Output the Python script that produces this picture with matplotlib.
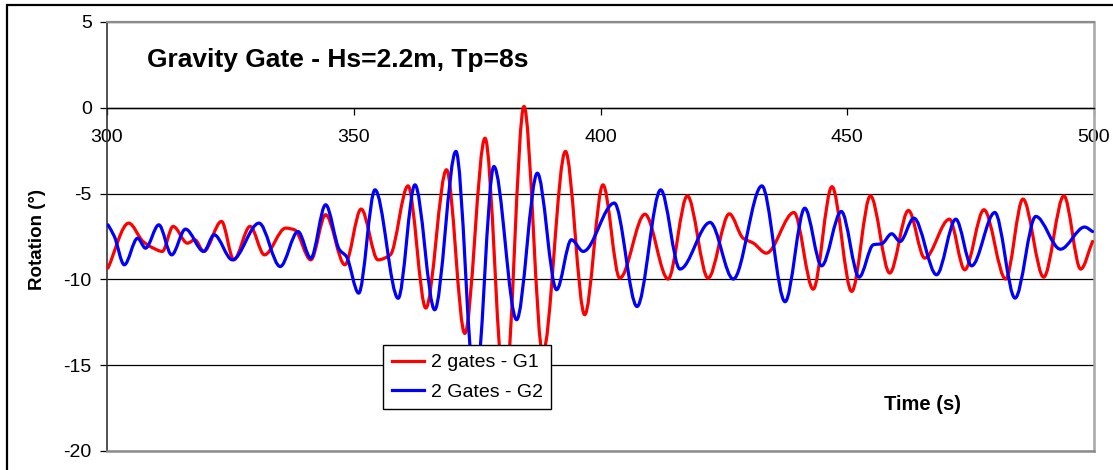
import numpy as np
import matplotlib
matplotlib.use('Agg')
import matplotlib.pyplot as plt
from matplotlib.path import Path
from matplotlib.patches import PathPatch, Rectangle
from matplotlib.lines import Line2D

plt.rcParams['font.family'] = ['Liberation Sans', 'DejaVu Sans']

# ---------------- data ----------------
title = "Gravity Gate - Hs=2.2m, Tp=8s"
x_label = "Time (s)"
y_label = "Rotation (\u00b0)"
x_ticks = [300, 350, 400, 450, 500]
y_ticks = [-20, -15, -10, -5, 0, 5]

g1_label = "2 gates - G1"
g1_time = [300.2, 304.4, 307.3, 309.4, 311.2, 313.4, 316.3, 317.8, 319.6, 323.2,
           325.7, 329.0, 331.9, 336.2, 338.0, 341.3, 344.3, 348.2, 351.5, 354.9,
           357.4, 361.0, 364.6, 368.8, 372.5, 376.6, 380.6, 384.5, 388.3, 392.9,
           396.8, 400.5, 403.9, 409.0, 413.7, 417.6, 421.8, 426.1, 428.9, 431.0,
           433.6, 439.2, 443.1, 446.9, 450.9, 454.7, 458.6, 462.4, 465.7, 470.7,
           473.8, 477.7, 482.1, 485.6, 489.8, 493.9, 497.3, 499.7]
g1_rot = [-9.34, -6.72, -7.79, -8.18, -8.37, -6.91, -7.89, -7.69, -8.37, -6.62,
          -8.86, -6.91, -8.57, -7.01, -7.11, -8.86, -6.23, -9.15, -5.90, -8.86,
          -8.57, -4.55, -11.67, -3.61, -13.15, -1.77, -16.8, 0.08, -14.3, -2.54,
          -12.06, -4.49, -9.93, -6.20, -9.98, -5.13, -9.93, -6.18, -7.60, -7.89,
          -8.47, -6.10, -10.57, -4.60, -10.70, -5.13, -9.63, -5.98, -8.76, -6.49,
          -9.44, -5.94, -9.98, -5.32, -9.87, -5.13, -9.40, -7.79]

g2_label = "2 Gates - G2"
g2_time = [300.2, 301.5, 303.5, 306.2, 307.8, 310.5, 313.1, 315.9, 319.6, 321.7,
           325.4, 330.8, 335.1, 338.7, 341.3, 344.3, 347.1, 348.5, 351.0, 354.3,
           359.0, 362.4, 366.4, 370.7, 374.6, 378.4, 383.0, 387.2, 391.1, 394.1,
           396.5, 402.8, 407.4, 412.2, 416.1, 422.2, 426.9, 432.7, 437.4, 441.4,
           444.8, 448.8, 452.4, 455.3, 457.0, 459.0, 460.7, 463.5, 468.1, 472.0,
           475.2, 479.9, 484.0, 488.2, 493.2, 498.1, 499.7]
g2_rot = [-6.82, -7.50, -9.15, -7.60, -8.18, -6.82, -8.57, -7.07, -8.37, -7.40,
          -8.86, -6.72, -9.25, -7.21, -8.76, -5.65, -8.27, -8.66, -10.80, -4.78,
          -11.10, -4.49, -11.77, -2.54, -16.5, -3.42, -12.35, -3.81, -10.60, -7.69,
          -8.37, -5.55, -11.58, -4.78, -9.40, -6.68, -9.98, -4.55, -11.30, -5.85,
          -9.21, -6.04, -9.87, -7.98, -7.92, -7.34, -7.79, -6.43, -9.73, -6.49,
          -9.21, -6.10, -11.09, -6.33, -8.24, -6.95, -7.21]


def smooth_path(t, y):
    """Smoothed-line path (like Excel's smoothed line) through the read points."""
    t = np.asarray(t, float)
    y = np.asarray(y, float)
    d = np.diff(y) / np.diff(t)
    m = np.zeros_like(y)
    for i in range(1, len(y) - 1):
        if d[i - 1] * d[i] > 0:
            h0 = t[i] - t[i - 1]
            h1 = t[i + 1] - t[i]
            w1 = 2 * h1 + h0
            w2 = h1 + 2 * h0
            m[i] = (w1 + w2) / (w1 / d[i - 1] + w2 / d[i])
    m[0] = d[0]
    m[-1] = d[-1]
    verts = [(t[0], y[0])]
    codes = [Path.MOVETO]
    for i in range(len(t) - 1):
        h = t[i + 1] - t[i]
        verts += [(t[i] + h / 3, y[i] + m[i] * h / 3),
                  (t[i + 1] - h / 3, y[i + 1] - m[i + 1] * h / 3),
                  (t[i + 1], y[i + 1])]
        codes += [Path.CURVE4] * 3
    return Path(verts, codes)


W, H = 1113, 470
fig = plt.figure(figsize=(W / 100, H / 100), dpi=100)
fig.patch.set_facecolor('white')

L, R, T, B = 107, 1094, 22, 451
ax = fig.add_axes([L / W, 1 - B / H, (R - L) / W, (B - T) / H])
ax.set_xlim(300, 500)
ax.set_ylim(-20, 5)

# gridlines
ax.set_yticks(y_ticks)
ax.set_xticks(x_ticks)
ax.yaxis.grid(True, color='black', lw=0.9)
ax.set_axisbelow(True)

# spines
ax.spines['bottom'].set_position(('data', 0))
ax.spines['bottom'].set_color('black')
ax.spines['bottom'].set_linewidth(1.0)
ax.spines['left'].set_color('#333333')
ax.spines['left'].set_linewidth(1.2)
ax.spines['top'].set_color('#8c8c8c')
ax.spines['top'].set_linewidth(1.6)
ax.spines['right'].set_color('#a6a6a6')
ax.spines['right'].set_linewidth(1.8)
ax.axhline(-20, color='#8c8c8c', lw=1.8, zorder=2.6, clip_on=False)

ax.tick_params(axis='y', direction='out', length=5, width=0.9, pad=6,
               labelsize=14, colors='black')
ax.tick_params(axis='x', direction='out', length=5, width=0.9, pad=10,
               labelsize=14, colors='black')
ax.set_yticklabels([str(v) for v in y_ticks])
ax.set_xticklabels([str(v) for v in x_ticks])

# series
p1 = PathPatch(smooth_path(g1_time, g1_rot), facecolor='none', edgecolor='#ff0000',
               lw=2.3, joinstyle='round', capstyle='round', zorder=3)
p2 = PathPatch(smooth_path(g2_time, g2_rot), facecolor='none', edgecolor='#0000ff',
               lw=2.3, joinstyle='round', capstyle='round', zorder=3.1)
ax.add_patch(p1)
ax.add_patch(p2)

handles = [Line2D([], [], color='#ff0000', lw=2.3),
           Line2D([], [], color='#0000ff', lw=2.3)]
leg = ax.legend(handles, [g1_label, g2_label], loc='upper left',
                bbox_to_anchor=((383 - L) / (R - L), (B - 345) / (B - T)),
                borderaxespad=0, fontsize=14, frameon=True, fancybox=False,
                edgecolor='black', framealpha=1, handlelength=1.65,
                handletextpad=0.35, labelspacing=0.6, borderpad=0.45)
leg.get_frame().set_linewidth(1.0)
leg.set_zorder(5)

# texts
fig.text(147 / W, 1 - 60 / H, title, fontsize=19, fontweight='bold',
         ha='left', va='center')
fig.text(923 / W, 1 - 405 / H, x_label, fontsize=14.5, fontweight='bold',
         ha='center', va='center')
fig.text(38 / W, 1 - 240 / H, y_label, fontsize=13.5, fontweight='bold',
         ha='center', va='center', rotation=90)

# outer chart frame (partially cropped in the reference)
fig.add_artist(Rectangle((7 / W, -0.2), 1.5, (1 - 5 / H) + 0.2, transform=fig.transFigure,
                         facecolor='none', edgecolor='black', lw=1.6, clip_on=False))

fig.savefig('out.png', dpi=100)
